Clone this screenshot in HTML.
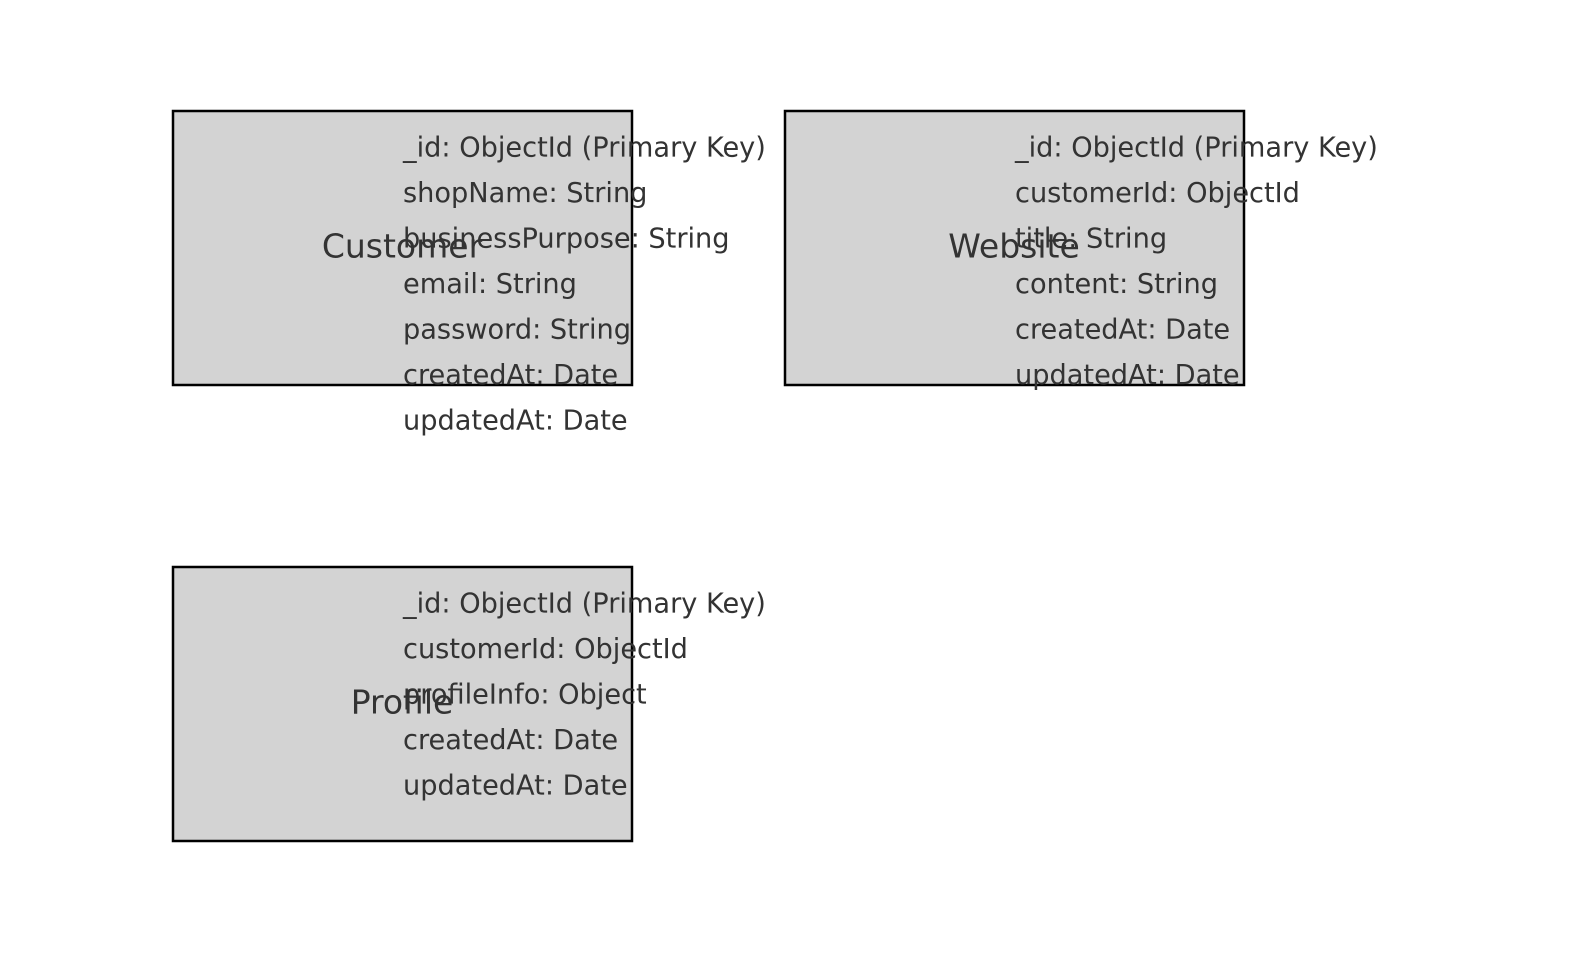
<!DOCTYPE html>
<html><head><meta charset="utf-8"><style>
html,body{margin:0;padding:0;background:#fff;}
svg{display:block;}
text{font-family:"DejaVu Sans","Liberation Sans",sans-serif;fill:#333;}
.t{font-size:33px;}
.a{font-size:27.2px;}
</style></head><body>
<svg width="1589" height="964" viewBox="0 0 1589 964" xmlns="http://www.w3.org/2000/svg">
<rect x="173" y="111" width="459" height="274" fill="#d3d3d3" stroke="#000" stroke-width="2.5"/>
<rect x="785" y="111" width="459" height="274" fill="#d3d3d3" stroke="#000" stroke-width="2.5"/>
<rect x="173" y="567" width="459" height="274" fill="#d3d3d3" stroke="#000" stroke-width="2.5"/>

<text class="t" x="402" y="246" text-anchor="middle" dominant-baseline="central">Customer</text>
<text class="t" x="1014" y="246" text-anchor="middle" dominant-baseline="central">Website</text>
<text class="t" x="402" y="702" text-anchor="middle" dominant-baseline="central">Profile</text>

<text class="a" x="403" y="148" dominant-baseline="central">_id: ObjectId (Primary Key)</text>
<text class="a" x="403" y="193.5" dominant-baseline="central">shopName: String</text>
<text class="a" x="403" y="239" dominant-baseline="central">businessPurpose: String</text>
<text class="a" x="403" y="284.5" dominant-baseline="central">email: String</text>
<text class="a" x="403" y="330" dominant-baseline="central">password: String</text>
<text class="a" x="403" y="375.5" dominant-baseline="central">createdAt: Date</text>
<text class="a" x="403" y="421" dominant-baseline="central">updatedAt: Date</text>

<text class="a" x="1015" y="148" dominant-baseline="central">_id: ObjectId (Primary Key)</text>
<text class="a" x="1015" y="193.5" dominant-baseline="central">customerId: ObjectId</text>
<text class="a" x="1015" y="239" dominant-baseline="central">title: String</text>
<text class="a" x="1015" y="284.5" dominant-baseline="central">content: String</text>
<text class="a" x="1015" y="330" dominant-baseline="central">createdAt: Date</text>
<text class="a" x="1015" y="375.5" dominant-baseline="central">updatedAt: Date</text>

<text class="a" x="403" y="604" dominant-baseline="central">_id: ObjectId (Primary Key)</text>
<text class="a" x="403" y="649.5" dominant-baseline="central">customerId: ObjectId</text>
<text class="a" x="403" y="695" dominant-baseline="central">profileInfo: Object</text>
<text class="a" x="403" y="740.5" dominant-baseline="central">createdAt: Date</text>
<text class="a" x="403" y="786" dominant-baseline="central">updatedAt: Date</text>
</svg>
</body></html>
